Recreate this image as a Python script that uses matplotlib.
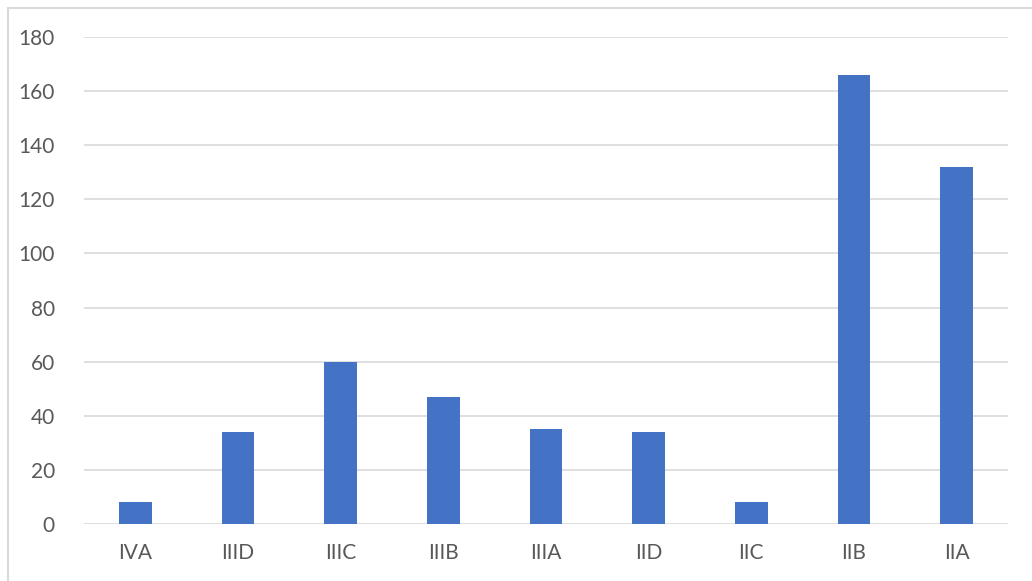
import matplotlib.pyplot as plt
from matplotlib.patches import Rectangle

# Chart data
categories = ["IVA", "IIID", "IIIC", "IIIB", "IIIA", "IID", "IIC", "IIB", "IIA"]
values = [8, 34, 60, 47, 35, 34, 8, 166, 132]
yticks = [0, 20, 40, 60, 80, 100, 120, 140, 160, 180]

plt.rcParams["font.family"] = ["Lato", "DejaVu Sans"]

fig = plt.figure(figsize=(10.32, 5.81), dpi=100)
ax = fig.add_axes([84 / 1032, 1 - 524 / 581, 924 / 1032, 487 / 581])

# Outer chart frame (cut off at right and bottom)
fig.patches.append(Rectangle((8 / 1032, -0.1), 1.2, 1 - 8 / 581 + 0.1,
                             transform=fig.transFigure, fill=False,
                             edgecolor="#D9D9D9", linewidth=1.5))

x = range(len(categories))
ax.bar(x, values, width=0.32, color="#4472C4", zorder=3)

ax.set_xlim(-0.5, len(categories) - 0.5)
ax.set_ylim(0, 180)
ax.set_yticks(yticks)
ax.set_xticks(list(x))
ax.set_xticklabels(categories)

ax.grid(axis="y", color="#D9D9D9", linewidth=1.2, zorder=0)
for s in ax.spines.values():
    s.set_visible(False)
ax.tick_params(length=0, labelsize=15, labelcolor="#595959")
ax.tick_params(axis="y", pad=21)
ax.tick_params(axis="x", pad=14)

fig.savefig("out.png", dpi=100)
